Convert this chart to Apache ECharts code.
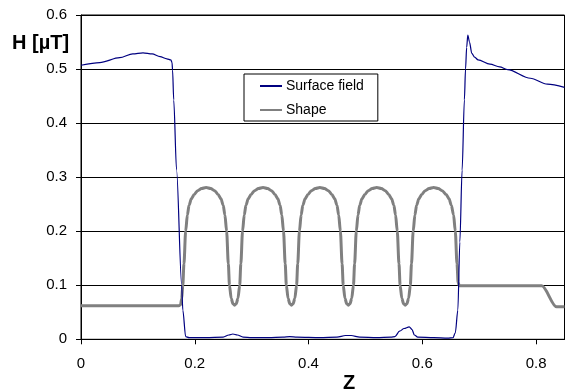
<!DOCTYPE html>
<html>
<head>
<meta charset="utf-8">
<script src="https://cdn.jsdelivr.net/npm/echarts@6/dist/echarts.min.js"></script>
<style>
  html, body { margin: 0; padding: 0; background: #fff; }
  #chart { width: 566px; height: 391px; }
</style>
</head>
<body>
<div id="chart"></div>
<script>
// values: [z, H]
const surfaceField = [
  [0, 0.507], [0.033, 0.512], [0.068, 0.521], [0.091, 0.528], [0.109, 0.530],
  [0.125, 0.528], [0.139, 0.523], [0.151, 0.519], [0.158, 0.517], [0.160, 0.512],
  [0.161, 0.498], [0.163, 0.443], [0.168, 0.313], [0.177, 0.1], [0.179, 0.054],
  [0.184, 0.005], [0.19, 0.003], [0.22, 0.003], [0.25, 0.004], [0.26, 0.008],
  [0.267, 0.0098], [0.275, 0.008], [0.285, 0.004], [0.30, 0.003], [0.33, 0.003],
  [0.355, 0.004], [0.367, 0.005], [0.38, 0.004], [0.42, 0.003], [0.45, 0.004],
  [0.465, 0.007], [0.475, 0.007], [0.49, 0.004], [0.52, 0.003], [0.545, 0.004],
  [0.552, 0.005], [0.560, 0.015], [0.568, 0.02], [0.577, 0.023], [0.582, 0.018],
  [0.586, 0.008], [0.592, 0.004], [0.62, 0.003], [0.645, 0.002], [0.654, 0.003],
  [0.658, 0.012], [0.6625, 0.054], [0.666, 0.18], [0.670, 0.313], [0.674, 0.443],
  [0.676, 0.5], [0.678, 0.54], [0.680, 0.563], [0.683, 0.55], [0.687, 0.529],
  [0.692, 0.522], [0.698, 0.517], [0.719, 0.509], [0.736, 0.504], [0.750, 0.499],
  [0.790, 0.483], [0.820, 0.472], [0.85, 0.466]
];

const shape = [
  [0, 0.062], [0.172, 0.062], [0.175, 0.064], [0.177, 0.075], [0.179, 0.10], [0.181, 0.14],
  [0.184, 0.20], [0.187, 0.23], [0.190, 0.248], [0.194, 0.260], [0.199, 0.268], [0.205, 0.275],
  [0.212, 0.279], [0.220, 0.281], [0.228, 0.279], [0.235, 0.275], [0.241, 0.268], [0.246, 0.260],
  [0.250, 0.248], [0.253, 0.23], [0.256, 0.20], [0.259, 0.14], [0.261, 0.10], [0.264, 0.076],
  [0.267, 0.066], [0.270, 0.063],
  [0.273, 0.066], [0.276, 0.076], [0.279, 0.10], [0.281, 0.14], [0.284, 0.20], [0.287, 0.23],
  [0.290, 0.248], [0.294, 0.260], [0.299, 0.268], [0.305, 0.275], [0.312, 0.279], [0.320, 0.281],
  [0.328, 0.279], [0.335, 0.275], [0.341, 0.268], [0.346, 0.260], [0.350, 0.248], [0.353, 0.23],
  [0.356, 0.20], [0.359, 0.14], [0.361, 0.10], [0.364, 0.076], [0.367, 0.066], [0.370, 0.063],
  [0.373, 0.066], [0.376, 0.076], [0.379, 0.10], [0.381, 0.14], [0.384, 0.20], [0.387, 0.23],
  [0.390, 0.248], [0.394, 0.260], [0.399, 0.268], [0.405, 0.275], [0.412, 0.279], [0.420, 0.281],
  [0.428, 0.279], [0.435, 0.275], [0.441, 0.268], [0.446, 0.260], [0.450, 0.248], [0.453, 0.23],
  [0.456, 0.20], [0.459, 0.14], [0.461, 0.10], [0.464, 0.076], [0.467, 0.066], [0.470, 0.063],
  [0.473, 0.066], [0.476, 0.076], [0.479, 0.10], [0.481, 0.14], [0.484, 0.20], [0.487, 0.23],
  [0.490, 0.248], [0.494, 0.260], [0.499, 0.268], [0.505, 0.275], [0.512, 0.279], [0.520, 0.281],
  [0.528, 0.279], [0.535, 0.275], [0.541, 0.268], [0.546, 0.260], [0.550, 0.248], [0.553, 0.23],
  [0.556, 0.20], [0.559, 0.14], [0.561, 0.10], [0.564, 0.076], [0.567, 0.066], [0.570, 0.063],
  [0.573, 0.066], [0.576, 0.076], [0.579, 0.10], [0.581, 0.14], [0.584, 0.20], [0.587, 0.23],
  [0.590, 0.248], [0.594, 0.260], [0.599, 0.268], [0.605, 0.275], [0.612, 0.279], [0.620, 0.281],
  [0.628, 0.279], [0.635, 0.275], [0.642, 0.268], [0.647, 0.260], [0.651, 0.248], [0.655, 0.23],
  [0.658, 0.20], [0.661, 0.14], [0.663, 0.105], [0.665, 0.099],
  [0.810, 0.099], [0.836, 0.060], [0.85, 0.060]
];

const seriesNames = ["Surface field", "Shape"];

const chart = echarts.init(document.getElementById("chart"));

chart.setOption({
  animation: false,
  textStyle: { fontFamily: "Liberation Sans, Arial, sans-serif", color: "#000" },
  grid: {
    left: 81, right: 1.5, top: 15, bottom: 51.7,
    show: true, borderColor: "#000", borderWidth: 1
  },
  legend: {
    left: 244, top: 74,
    orient: "vertical",
    data: seriesNames,
    itemWidth: 22, itemHeight: 14, itemGap: 10,
    padding: [5, 14, 4, 15],
    borderColor: "#000", borderWidth: 1,
    backgroundColor: "#fff",
    itemStyle: { opacity: 0 },
    textStyle: { fontSize: 14, color: "#000", padding: [0, 0, 0, -1] }
  },
  xAxis: {
    type: "value",
    min: 0, max: 0.85, interval: 0.2,
    axisLine: { lineStyle: { color: "#000" } },
    axisTick: { show: true, length: 5, lineStyle: { color: "#000" } },
    axisLabel: { fontSize: 15, color: "#000", margin: 17, showMaxLabel: false },
    splitLine: { show: false }
  },
  yAxis: {
    type: "value",
    min: 0, max: 0.6, interval: 0.1,
    axisLine: { show: true, lineStyle: { color: "#000" } },
    axisTick: { show: true, length: 5, lineStyle: { color: "#000" } },
    axisLabel: { fontSize: 15, color: "#000", margin: 14 },
    splitLine: { lineStyle: { color: "#000", width: 1 } }
  },
  graphic: [
    {
      type: "text", left: 12, top: 33,
      style: { text: "H [µT]", font: "bold 20px Liberation Sans, Arial, sans-serif", fill: "#000" }
    },
    {
      type: "text", left: 343, top: 373,
      style: { text: "Z", font: "bold 20px Liberation Sans, Arial, sans-serif", fill: "#000" }
    }
  ],
  series: [
    {
      name: seriesNames[0],
      type: "line",
      data: surfaceField,
      symbol: "none",
      smooth: 0.3,
      smoothMonotone: "x",
      lineStyle: { color: "#000080", width: 1.2 },
      itemStyle: { color: "#4d4da6" },
      z: 3
    },
    {
      name: seriesNames[1],
      type: "line",
      data: shape,
      symbol: "none",
      smooth: 0.3,
      smoothMonotone: "x",
      lineStyle: { color: "#808080", width: 3 },
      itemStyle: { color: "#808080" },
      z: 2
    }
  ]
});
</script>
</body>
</html>
